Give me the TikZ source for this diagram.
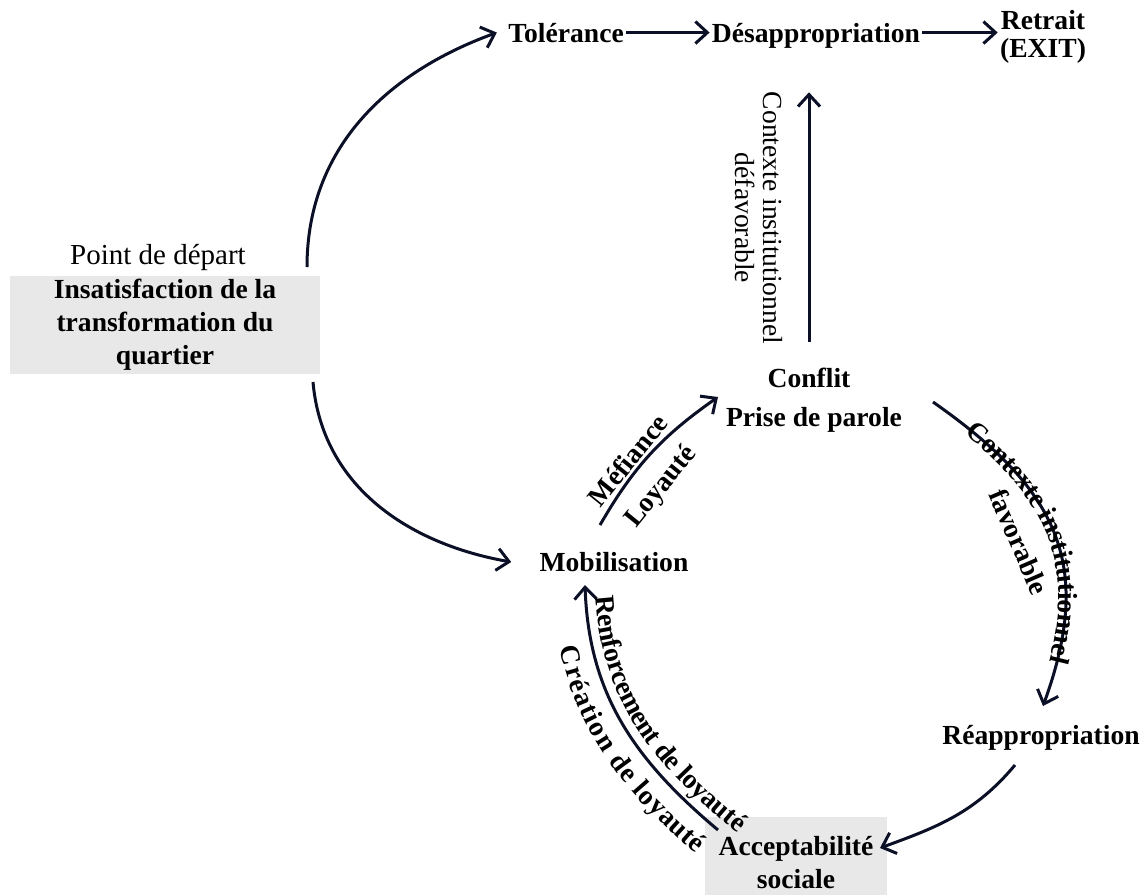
\documentclass[tikz,border=0pt]{standalone}
\usepackage{fontspec}
\setmainfont{Liberation Serif}
\usetikzlibrary{arrows.meta,decorations.text}

\definecolor{ink}{RGB}{12,16,38}
\definecolor{boxgrey}{RGB}{232,232,232}
\newcommand{\etatfont}{\bfseries\fontsize{13.8}{16}\selectfont}

\tikzset{
  >={Straight Barb[length=6pt,width=11pt]},
  etat/.style={font=\etatfont, inner sep=1pt, align=center},
  note/.style={font=\fontsize{13.8}{16}\selectfont, inner sep=1pt, align=center},
  fleche/.style={->, line width=1.5pt, draw=ink},
}

\begin{document}
\begin{tikzpicture}[x=0.5pt,y=0.5pt]
\useasboundingbox (0,0) rectangle (1145,-895);

\node[note, font=\fontsize{14.5}{16}\selectfont] (dep) at (158,-257) {Point de départ};
\node[etat, fill=boxgrey, minimum width=155pt, minimum height=49pt,
  font=\bfseries\fontsize{13.8}{16.5}\selectfont] (ins) at (165,-325) {Insatisfaction de la\\transformation du\\quartier};

\node[etat, anchor=base] (tol) at (566,-42) {Tolérance};
\node[etat, anchor=base] (des) at (816,-42) {Désappropriation};
\node[etat] (ret) at (1043,-37) {Retrait\\[-2pt](EXIT)};

\node[note, rotate=-90] (ctx) at (759,-218) {Contexte institutionnel\\[-2pt]défavorable};

\node[etat] (con) at (809,-378) {Conflit};
\node[etat] (pdp) at (814,-420) {Prise de parole};
\node[etat] (mob) at (614,-562) {Mobilisation};
\node[etat] (rea) at (1041,-738) {Réappropriation};
\fill[boxgrey] (705,-817) rectangle (887,-895);
\node[etat] (acc) at (796,-863) {Acceptabilité\\[0.5pt]sociale};

\coordinate (a1) at (307,-267);
\coordinate (a2) at (313,-382);
\coordinate (b1) at (600,-525);
\coordinate (b2) at (718,-397);
\coordinate (c1) at (933,-402);
\coordinate (c2) at (1043,-706);
\coordinate (d1) at (1015,-765);
\coordinate (d2) at (880,-848);
\coordinate (e1) at (585,-585);
\coordinate (e2) at (718,-830);

% depart
\draw[fleche] (a1) to[out=90,in=200] ([xshift=-4.5pt]tol.west);
\draw[fleche] (a2) to[out=-85,in=170] ([xshift=-13pt]mob.west);

% ligne du haut
\draw[fleche] (tol.east) -- (tol.east -| des.west);
\draw[fleche] (des.east |- tol.east) -- (tol.east -| ret.west);
\draw[fleche, shorten <=12pt, shorten >=21pt] (con.north) -- (con.north |- des.south);

% cycle
\draw[fleche] (b1) to[out=60,in=215]
  node[etat, sloped, above, pos=0.38] {Méfiance}
  node[etat, sloped, below=7pt, pos=0.38] {Loyauté} (b2);

\draw[fleche] (c1) to[out=-35,in=70,looseness=1.2]
  node[etat, sloped, below=11pt, pos=0.48] {favorable} (c2);
\path[decorate, decoration={text along path, text align=center, raise=-3.5pt,
  text={|\etatfont|Contexte institutionnel}}]
  (c1) to[out=-35,in=70,looseness=1.2] (c2);

\draw[fleche] (d1) to[out=-130,in=20] (d2);

\draw[fleche, <-] (e1) to[out=-88,in=140] (e2);
\path[decorate, decoration={text along path, text align={left indent=6pt}, raise=5pt,
  text={|\etatfont|Renforcement de loyauté}}]
  (e1) to[out=-88,in=140] (e2) -- ++(-40:40);
\path[decorate, decoration={text along path, text align={left indent=28pt}, raise=-16pt,
  text={|\etatfont|Création de loyauté}}]
  (e1) to[out=-88,in=140] (e2) -- ++(-40:40);

\end{tikzpicture}
\end{document}
